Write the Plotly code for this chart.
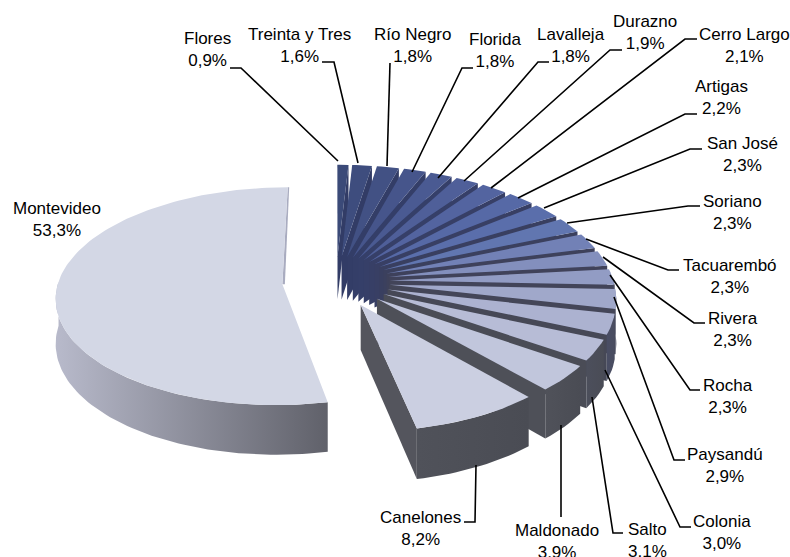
import numpy as np
import plotly.graph_objects as go

departments = ["Flores", "Treinta y Tres", "Río Negro", "Florida", "Lavalleja", "Durazno",
               "Cerro Largo", "Artigas", "San José", "Soriano", "Tacuarembó", "Rivera",
               "Rocha", "Paysandú", "Colonia", "Salto", "Maldonado", "Canelones", "Montevideo"]
shares = [0.9, 1.6, 1.8, 1.8, 1.8, 1.9, 2.1, 2.2, 2.3, 2.3, 2.3, 2.3, 2.3, 2.9, 3.0, 3.1, 3.9, 8.2, 53.3]
share_labels = ["0,9%", "1,6%", "1,8%", "1,8%", "1,8%", "1,9%", "2,1%", "2,2%", "2,3%", "2,3%",
                "2,3%", "2,3%", "2,3%", "2,9%", "3,0%", "3,1%", "3,9%", "8,2%", "53,3%"]

top_colors = ["#3b4a78", "#3e4d7e", "#425184", "#46558b", "#4a5a92", "#4f5f99", "#5364a0", "#5669a6",
              "#5a6eab", "#6176b0", "#7281b6", "#838fbd", "#929cc4", "#a0a8ca", "#acb2d0", "#b7bcd6",
              "#c1c6dc", "#cbcfe1", "#d3d7e5"]
wall_colors = ["#323c66", "#323c66", "#333d67", "#343e68", "#353f69", "#363f68", "#373f66", "#383f64",
               "#393f60", "#3b405e", "#3e415b", "#40425a", "#424459", "#444658", "#464856", "#4a4c56",
               "#4e5058", "#54555d", "#63646d"]
outer_grad = ([["#494d64", "#4a4d60"]] * 15 + [["#4c4f5c", "#4a4c56"]] +
              [["#50525a", "#4a4c54"]] * 2 + [["#b8bacb", "#60616a"]])

# label centre (x, y) in picture pixels
label_x = [207, 299, 412, 495, 571, 645, 744, 721, 742, 732, 730, 733, 728, 725, 722, 647, 557, 420, 57]
label_y = [49, 45, 45, 50, 45, 32, 45, 97, 154, 212, 276, 329, 396, 465, 532, 540, 541, 528, 219]

leaders = [
    [(230, 68), (241, 68), (338, 161)],
    [(322, 62), (334, 62), (358, 163)],
    [(390, 63), (387, 166)],
    [(473, 68), (462, 68), (412, 172)],
    [(549, 62), (538, 62), (438, 178)],
    [(622, 50), (610, 50), (464, 181)],
    [(697, 39), (685, 39), (491, 188)],
    [(697, 114), (685, 114), (518, 198)],
    [(702, 149), (690, 149), (544, 208)],
    [(700, 206), (688, 206), (567, 223)],
    [(679, 270), (668, 270), (586, 239)],
    [(705, 323), (694, 323), (603, 257)],
    [(700, 390), (690, 390), (610, 275)],
    [(685, 460), (674, 460), (614, 297)],
    [(691, 527), (680, 527), (605, 370)],
    [(623, 533), (613, 533), (592, 397)],
    [(561, 517), (561, 425)],
    [(464, 522), (475, 522), (476, 465)],
]

CX, CY, A, B, K, DEPTH, EXPLODE = 336.0, 281.5, 224.0, 107.0, 0.11, 44.0, 0.24


def project(wx, wy, drop=0.0):
    s = 1.0 / (1.0 + K * wy)
    return CX + A * wx * s, CY - B * wy * s + drop * s


fig = go.Figure()


def poly(xs, ys, color=None, grad=None):
    kw = dict(fillcolor=color) if grad is None else dict(
        fillgradient=dict(type="horizontal", colorscale=[[0, grad[0]], [1, grad[1]]]))
    fig.add_trace(go.Scatter(x=list(xs) + [xs[0]], y=list(ys) + [ys[0]], mode="lines", fill="toself",
                             line=dict(width=0), hoverinfo="skip", showlegend=False, **kw))


def draw_slice(t1, t2, top, wall, grad):
    m = (t1 + t2) / 2
    ox, oy = EXPLODE * np.sin(m), EXPLODE * np.cos(m)
    th = np.linspace(t1, t2, max(6, int((t2 - t1) * 40)))
    wx, wy = ox + np.sin(th), oy + np.cos(th)
    # radial walls that face the viewer
    for t, facing in ((t1, np.sin(t1) < 0), (t2, np.sin(t2) > 0 and t2 < np.pi)):
        if facing:
            ex, ey = ox + np.sin(t), oy + np.cos(t)
            p = [project(ox, oy), project(ex, ey), project(ex, ey, DEPTH), project(ox, oy, DEPTH)]
            poly([q[0] for q in p], [q[1] for q in p], color=wall)
    # thin sliver of the far radial wall, seen in perspective on the largest slice
    if t2 - t1 > np.pi:
        ex, ey = project(wx[-1], wy[-1])
        hx, hy = project(ox, oy)
        poly([ex, ex + 1.5, hx + 2.5, hx], [ey, ey, hy, hy], color="#a9acc0")
    # outer rim that faces the viewer
    vis = np.cos(th) < 0.04
    if vis.sum() > 1:
        tx, ty = project(wx[vis], wy[vis])
        bx, by = project(wx[vis], wy[vis], DEPTH)
        poly(np.r_[tx, bx[::-1]], np.r_[ty, by[::-1]], grad=grad)
    # top face
    fx, fy = project(np.r_[ox, wx], np.r_[oy, wy])
    poly(fx, fy, color=top)


edges = np.cumsum([0.0] + shares) / sum(shares) * 2 * np.pi
for i in range(len(shares)):
    draw_slice(edges[i], edges[i + 1], top_colors[i], wall_colors[i], outer_grad[i])

for path in leaders:
    fig.add_trace(go.Scatter(x=[p[0] for p in path], y=[p[1] for p in path], mode="lines",
                             line=dict(color="#000000", width=1.6), hoverinfo="skip", showlegend=False))

for name, lab, x, y in zip(departments, share_labels, label_x, label_y):
    fig.add_annotation(x=x, y=y, text=f"{name}<br>{lab}", showarrow=False, align="center",
                       font=dict(family="Liberation Sans", size=17, color="#000000"))

fig.update_layout(width=790, height=557, margin=dict(l=0, r=0, t=0, b=0), autosize=False,
                  paper_bgcolor="white", plot_bgcolor="white", showlegend=False,
                  xaxis=dict(range=[0, 790], visible=False, fixedrange=True),
                  yaxis=dict(range=[557, 0], visible=False, fixedrange=True))
fig.write_html("out.html", config=dict(displayModeBar=False),
               post_script="document.body.style.margin='0';document.body.style.overflow='hidden';")
